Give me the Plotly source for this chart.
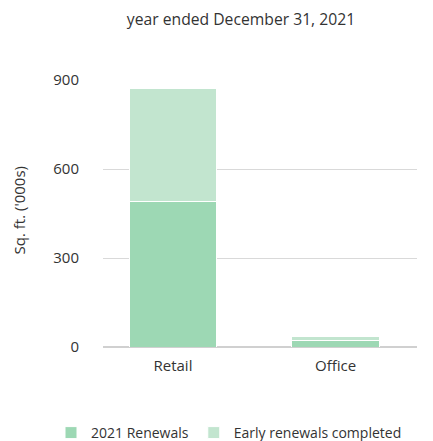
import plotly.graph_objects as go

categories = ["Retail", "Office"]
renewals_2021 = [490, 21]
early_renewals = [383, 13]
tick_vals = [0, 300, 600, 900]
tick_text = ["0", "300", "600", "900"]

FONT = "Open Sans"
TXT = "#333333"
OFF = 8  # default page body margin

fig = go.Figure()
fig.add_trace(go.Bar(
    x=categories, y=renewals_2021, name="2021 Renewals",
    marker=dict(color="#9dd8b4", line=dict(color="white", width=1)),
    width=0.54,
))
fig.add_trace(go.Bar(
    x=categories, y=early_renewals, name="Early renewals completed",
    marker=dict(color="#c2e5cf", line=dict(color="white", width=1)),
    width=0.54,
))

fig.add_annotation(text="Sq. ft. ('000s)", textangle=-90, xref="paper", yref="paper",
                   x=(18.5 - 103) / 314, y=(347 - 211) / 267, xanchor="center", yanchor="middle",
                   showarrow=False, font=dict(size=15, color=TXT))

W, H = 433 - OFF, 441 - OFF
fig.update_layout(
    barmode="stack",
    width=W, height=H,
    margin=dict(l=103 - OFF, r=16, t=80 - OFF, b=94, autoexpand=False),
    paper_bgcolor="white", plot_bgcolor="white",
    font=dict(family=FONT, size=14, color=TXT),
    title=dict(text="year ended December 31, 2021", x=(241 - OFF) / W, xanchor="center",
               y=1 - (20 - OFF) / H, yanchor="middle", font=dict(size=15.7, color=TXT)),
    showlegend=True,
    legend=dict(orientation="h", x=(51 - 103) / 314, xanchor="left",
                y=(347 - 433) / 267, yanchor="middle",
                font=dict(size=14, color=TXT), traceorder="normal"),
    xaxis=dict(range=[-0.43, 1.5], showgrid=False, showline=False, ticks="outside",
               ticklen=5, tickcolor="white",
               tickfont=dict(size=15, color=TXT)),
    yaxis=dict(range=[0, 900], tickvals=tick_vals, ticktext=tick_text,
               showgrid=True, gridcolor="#d9d9d9", gridwidth=1,
               zeroline=True, zerolinecolor="#d0d0d0", zerolinewidth=1.5,
               ticks="outside", ticklen=20, tickcolor="white",
               tickfont=dict(size=15, color=TXT)),
)

fig.write_html("out.html", config={"displayModeBar": False})
